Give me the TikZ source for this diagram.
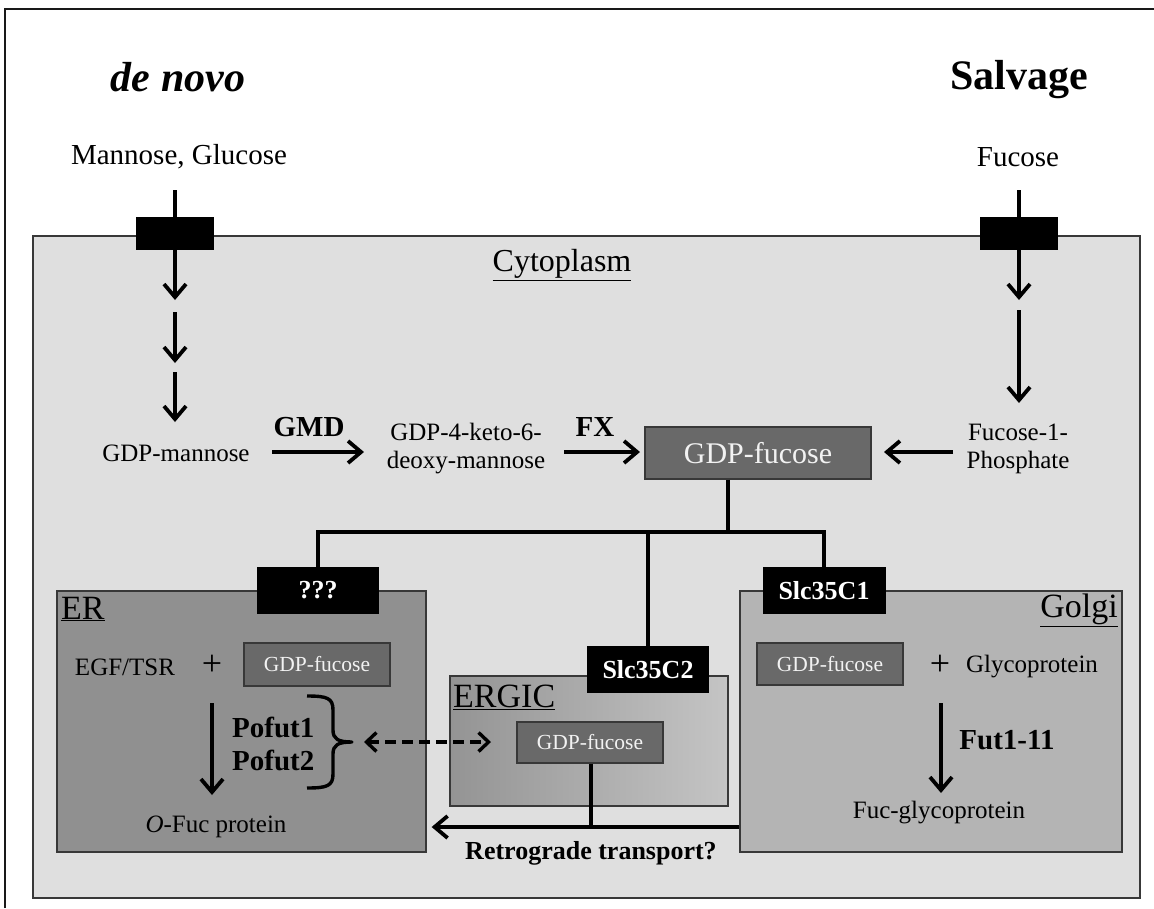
\documentclass[tikz,border=0pt]{standalone}
\usepackage{fontspec}
\setmainfont{Liberation Serif}
\usetikzlibrary{arrows.meta}
\newcommand{\myfs}[2]{\fontsize{#1}{#2}\selectfont}
\definecolor{cytofill}{gray}{0.875}
\definecolor{erfill}{gray}{0.565}
\definecolor{golgifill}{gray}{0.705}
\definecolor{gdpfill}{gray}{0.41}
\definecolor{boxline}{gray}{0.22}
\definecolor{ergicL}{gray}{0.58}
\definecolor{ergicR}{gray}{0.77}
\definecolor{gdptext}{gray}{0.95}
\begin{document}
\begin{tikzpicture}[x=1pt,y=-1pt,
  txt/.style={inner sep=0pt, font=\myfs{25}{28}, align=center},
  toptxt/.style={inner sep=0pt, font=\myfs{29}{32}},
  boldtxt/.style={inner sep=0pt, font=\bfseries\myfs{29}{33}, align=left},
  complbl/.style={inner sep=0pt, font=\myfs{34}{38}},
  plustxt/.style={inner sep=0pt, font=\myfs{36}{40}},
  blk/.style={fill=black, text=white, font=\bfseries\myfs{26}{29}, inner sep=0pt},
  gdp/.style={draw=boxline, line width=1.3pt, fill=gdpfill, text=gdptext, inner sep=0pt, font=\myfs{21.5}{24}},
  comp/.style={draw=boxline, line width=1.3pt, inner sep=0pt},
  conn/.style={line width=3.8pt},
  arr/.style={line width=3.8pt, -{Straight Barb[length=13pt,width=22pt]}},
  darr/.style={line width=3.4pt, dash pattern=on 11pt off 6pt,
    {Straight Barb[length=10pt,width=19pt]}-{Straight Barb[length=10pt,width=19pt]}}
]
\useasboundingbox (0,0) rectangle (1154,908);
\fill[white] (0,0) rectangle (1154,908);
\draw[line width=2pt, draw=black!90] (5,908) -- (5,9) -- (1154,9);

% cytoplasm
\node[comp, fill=cytofill, minimum width=1107pt, minimum height=662pt] (cyto) at (586.5,567) {};
\node[complbl, font=\myfs{32}{36}] (cytolbl) at (562,265) {\underline{Cytoplasm}};

% headings
\node[inner sep=0pt, font=\bfseries\itshape\myfs{42}{46}] (denovo) at (178,77) {de novo};
\node[inner sep=0pt, font=\bfseries\myfs{42}{46}] (salvage) at (1019,80) {Salvage};
\node[toptxt] (mangluc) at (179,157) {Mannose, Glucose};
\node[toptxt] (fucose) at (1018,157) {Fucose};

% transporters in plasma membrane
\node[blk, minimum width=78pt, minimum height=33pt] (transL) at (175,233.5) {};
\node[blk, minimum width=78pt, minimum height=33pt] (transR) at (1019,233.5) {};

% de novo chain
\coordinate (l0) at (175,190);
\coordinate (l1) at (175,300);
\coordinate (l2) at (175,312);
\coordinate (l3) at (175,363);
\coordinate (l4) at (175,372);
\coordinate (l5) at (175,422);
\draw[arr] (l0) -- (l1);
\draw[arr] (l2) -- (l3);
\draw[arr] (l4) -- (l5);

% salvage chain
\coordinate (r0) at (1019,190);
\coordinate (r1) at (1019,300);
\coordinate (r2) at (1019,310);
\coordinate (r3) at (1019,403);
\draw[arr] (r0) -- (r1);
\draw[arr] (r2) -- (r3);

% middle row
\node[txt] (gdpman) at (176,453) {GDP-mannose};
\node[txt] (keto) at (466,449) {GDP-4-keto-6-\\deoxy-mannose};
\node[gdp, minimum width=226pt, minimum height=52pt, font=\myfs{30}{34}] (gfuc) at (758,453) {GDP-fucose};
\node[txt] (fuc1p) at (1018,449) {Fucose-1-\\Phosphate};
\node[boldtxt] (gmd) at (309,427) {GMD};
\node[boldtxt] (fx) at (595,427) {FX};
\coordinate (gmdS) at (272,452);
\coordinate (gmdE) at (364,452);
\coordinate (fxS) at (564,452);
\coordinate (fxE) at (640,452);
\coordinate (f1S) at (953,452);
\coordinate (f1E) at (884,452);
\draw[arr] (gmdS) -- (gmdE);
\draw[arr] (fxS) -- (fxE);
\draw[arr] (f1S) -- (f1E);

% compartments
\node[comp, fill=erfill, minimum width=369pt, minimum height=261pt] (er) at (241.5,721.5) {};
\node[comp, fill=golgifill, minimum width=382pt, minimum height=261pt] (golgi) at (931,721.5) {};
\node[comp, left color=ergicL, right color=ergicR, minimum width=278pt, minimum height=130pt] (ergic) at (589,741) {};

% nucleotide-sugar transporters
\node[blk, minimum width=122pt, minimum height=47pt] (qqq) at (318,590.5) {???};
\node[blk, minimum width=123pt, minimum height=47pt] (slc1) at (824,590.5) {Slc35C1};
\node[blk, minimum width=122pt, minimum height=47pt] (slc2) at (648,669.5) {Slc35C2};

% distribution tree
\coordinate (tj) at (728,532);
\draw[conn] (gfuc.south -| tj) -- (tj);
\draw[conn, line join=miter] (qqq.north) -- (qqq.north |- tj) -- (slc1.north |- tj) -- (slc1.north);
\draw[conn] (slc2.north |- tj) -- (slc2.north);

% ER content
\node[complbl, anchor=west] (erlbl) at (61,609) {\underline{ER}};
\node[txt] (egf) at (125,667) {EGF/TSR};
\node[plustxt] (plusER) at (212,665) {+};
\node[gdp, minimum width=146pt, minimum height=43pt] (ergdp) at (317,664.5) {GDP-fucose};
\coordinate (e0) at (212,703);
\coordinate (e1) at (212,795);
\draw[arr] (e0) -- (e1);
\node[boldtxt, anchor=west] (pofut) at (232,743.5) {Pofut1\\Pofut2};
\draw[line width=3.4pt, line join=round]
  (307,696) .. controls (327,696) and (333,698) .. (333,710) -- (333,730)
  .. controls (333,739) and (338,742) .. (352,742)
  .. controls (338,742) and (333,745) .. (333,754) -- (333,774)
  .. controls (333,786) and (327,788) .. (307,788);
\coordinate (dS) at (364,742);
\coordinate (dE) at (491,742);
\draw[darr] (dS) -- (dE);
\node[txt] (ofuc) at (216,827) {\textit{O}-Fuc protein};

% ERGIC content
\node[complbl, anchor=west] (ergiclbl) at (453,697) {\underline{ERGIC}};
\node[gdp, minimum width=146pt, minimum height=41pt] (ergicgdp) at (590,742.5) {GDP-fucose};
\coordinate (rtj) at (591,827);
\draw[conn] (ergicgdp.south -| rtj) -- (rtj);
\draw[arr, shorten >=5pt] (golgi.west |- rtj) -- (er.east |- rtj);
\node[inner sep=0pt, font=\bfseries\myfs{26}{30}] (retro) at (591,853) {Retrograde transport?};

% Golgi content
\node[complbl, anchor=east] (golgilbl) at (1118,610) {\underline{Golgi}};
\node[gdp, minimum width=146pt, minimum height=42pt] (golgigdp) at (830,664) {GDP-fucose};
\node[plustxt] (plusG) at (940,665) {+};
\node[txt] (glyco) at (1032,667) {Glycoprotein};
\coordinate (g0) at (941,703);
\coordinate (g1) at (941,793);
\draw[arr] (g0) -- (g1);
\node[boldtxt] (fut) at (1007,740) {Fut1-11};
\node[txt] (fucglyco) at (939,813) {Fuc-glycoprotein};
\end{tikzpicture}
\end{document}
